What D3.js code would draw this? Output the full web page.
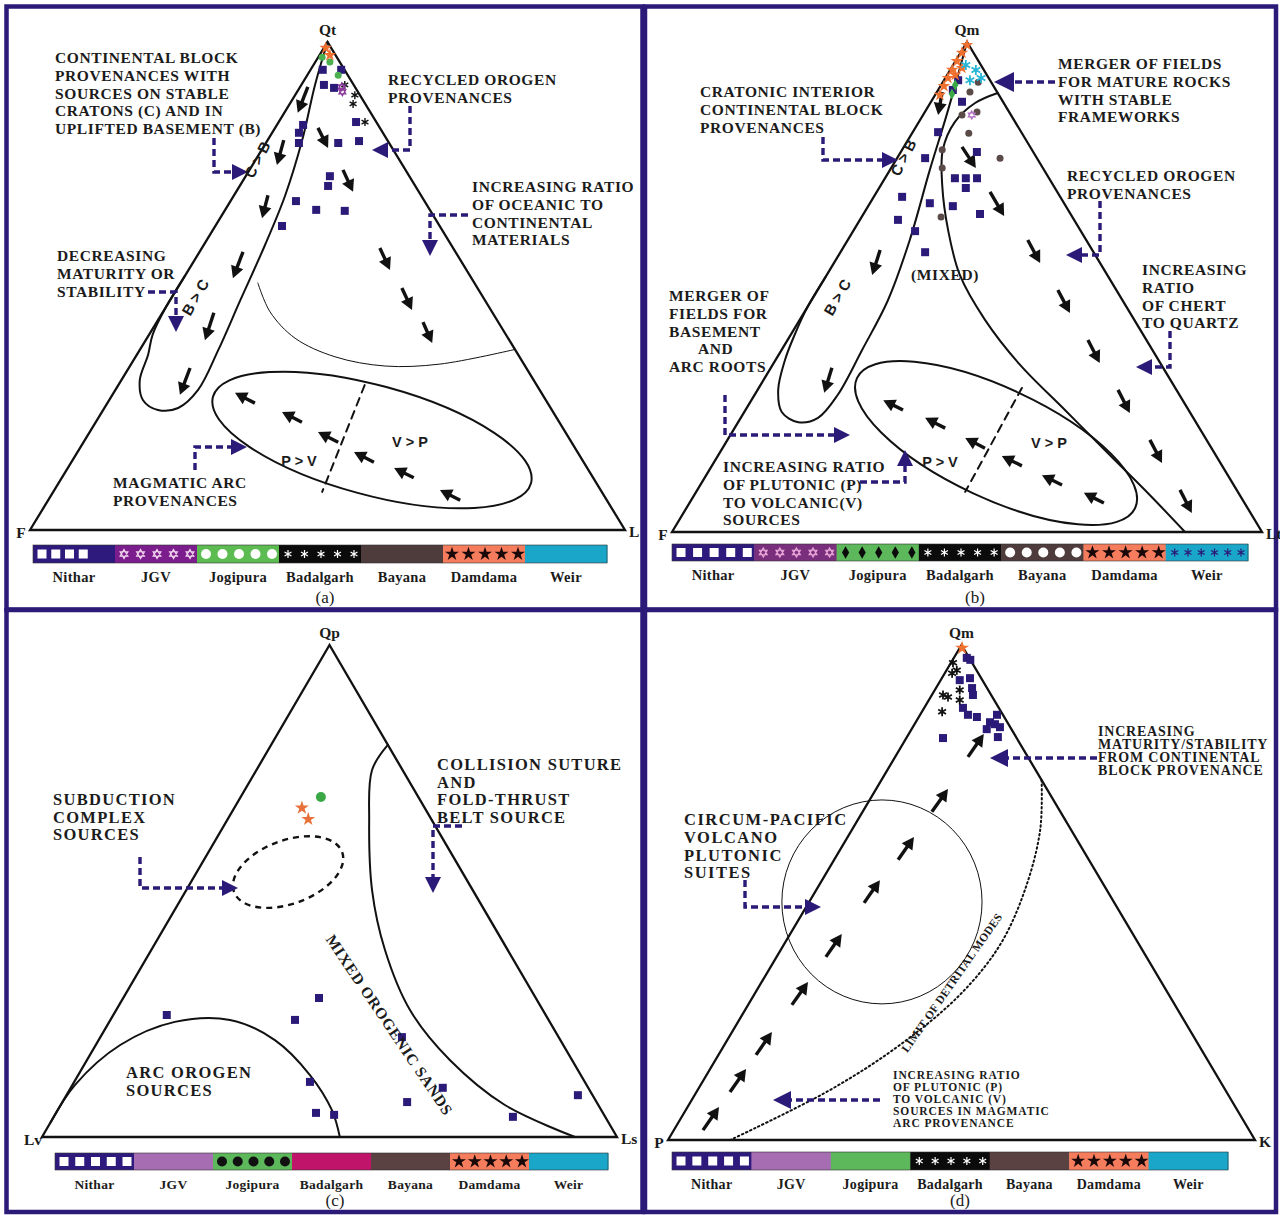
<!DOCTYPE html>
<html><head><meta charset="utf-8">
<script src="https://cdn.jsdelivr.net/npm/d3@7"></script>
<style>
body{margin:0;background:#fff}
svg{display:block}
text{font-family:"Liberation Serif","Times New Roman",serif;font-weight:bold;fill:#1b1b1b}
.sans{font-family:"Liberation Sans",Arial,sans-serif}
</style>
</head><body>
<svg id="fig" width="1280" height="1215"></svg>
<script>
// ---------- categories and labels ----------
const formations = ["Nithar","JGV","Jogipura","Badalgarh","Bayana","Damdama","Weir"];
const vertexLabels = { a:["Qt","F","L"], b:["Qm","F","Lt"], c:["Qp","Lv","Ls"], d:["Qm","P","K"] };
const panelTitles = ["(a)","(b)","(c)","(d)"];

// ---------- (a) QtFL : compositions [Qt, F, L] in % ----------
const qtflNithar = [[94.3,3.65,2.05],[94.3,0.55,5.15],[91.2,5.0,3.8],[90.6,3.6,5.8],[83.0,12.6,4.4],[81.4,14.1,4.5],
  [79.3,15.15,5.55],[83.6,3.4,13.0],[79.3,8.55,12.15],[79.7,4.85,15.45],[72.5,13.35,14.15],[70.5,14.65,14.85],
  [67.4,21.6,11.0],[65.6,19.1,15.3],[65.4,14.4,20.2],[62.3,26.5,11.2]];
const qtflBadalgarh = [[91.2,1.5,7.3],[89.1,0.85,10.05],[87.3,2.05,10.65],[83.6,1.9,14.5]];
const qtflJGV = [[90.8,2.2,7.0],[89.8,2.6,7.6]];
const qtflJogipura = [[96.9,2.45,0.65],[95.9,1.65,2.45],[93.2,1.6,5.2]];
const qtflDamdama = [[98.8,0.9,0.3],[97.3,0.95,1.75]];
// field boundaries
const qtflContinental = [[52,48,0],[46,54,0],[40,59.4,0.6],[35.9,62.2,1.9],[30.7,66.2,3.1],[26.6,67.7,5.7],[24.6,66.2,9.2],[25.0,62.6,12.4],
  [28.7,57.4,13.9],[36.9,49.9,13.2],[47.1,41.1,11.8],[58.4,31.3,10.3],[68.6,22.8,8.6],[79.9,14.3,5.8],[91.2,6.5,2.3],[100,0,0]];
const qtflTransition = [[50.6,36.4,13.0],[44.7,37.3,18.0],[39.3,35.8,24.9],[35.5,31.0,33.5],[33.6,23.5,42.9],[34.0,14.1,51.9],[37,0,63]];
const qtflArcField = [[27.3,55.6,17.1],[9.6,11.0,79.4],[29.3,25.5,45.2]]; // major axis ends, minor axis end
const qtflArcDivide = [[29.7,28.9,41.4],[7.8,47.0,45.2]];
const qtflTrends = [
  [[90.8,7.9,1.3],[85.5,12.25,2.25]],[[79.9,17.4,2.7],[74.8,21.1,4.1]],[[68.6,25.7,5.7],[63.9,29.05,7.05]],
  [[57.0,35.7,7.3],[51.6,40.1,8.3]],[[44.5,46.85,8.65],[38.9,51.15,9.95]],[[33.2,56.5,10.3],[27.7,60.95,11.35]],
  [[82.4,10.4,7.2],[78.3,10.75,10.95]],[[73.8,10.5,15.7],[69.3,11.05,19.65]],[[57.8,12.3,29.9],[53.3,12.85,33.85]],
  [[49.6,12.7,37.7],[45.1,13.25,41.65]],[[42.6,12.65,44.75],[38.3,13.25,48.45]],
  [[26.0,49.2,24.8],[28.1,51.5,20.4]],[[22.1,43.25,34.65],[24.2,45.55,30.25]],[[18.0,39.2,42.8],[20.1,41.55,38.35]],
  [[13.9,35.25,50.85],[16.0,37.55,46.45]],[[10.7,30.15,59.15],[12.7,32.45,54.85]],[[6.1,24.65,69.25],[8.2,27.0,64.8]]];

// ---------- (b) QmFLt : compositions [Qm, F, Lt] in % ----------
const qmfltNithar = [[90.2,7.3,2.5],[87.8,6.95,5.25],[81.6,14.1,4.3],[77.55,9.55,12.9],[76.3,18.95,4.75],[72.2,15.95,11.85],
  [72.2,14.1,13.7],[72.2,12.2,15.6],[70.2,15.1,14.7],[68.4,26.8,4.8],[67.1,22.75,10.15],[66.5,19.15,14.35],
  [64.9,15.35,19.75],[63.7,29.85,6.45],[61.4,28.1,10.5],[57.1,28.55,14.35],[92.2,5.4,2.4]];
const qmfltBayana = [[89.8,4.6,5.6],[91.8,2.2,6.0],[85.1,8.3,6.6],[85.7,5.45,8.85],[81.4,9.0,9.6],[78.0,15.2,6.8],
  [76.3,6.25,17.45],[74.3,17.05,8.65],[64.3,22.25,13.45]];
const qmfltDamdama = [[99.4,0.3,0.3],[97.8,1.95,0.25],[96.1,3.65,0.25],[94.3,5.35,0.35],[92.65,6.9,0.45],[91.0,8.4,0.6],
  [89.2,10.0,0.8],[93.3,5.35,1.35],[94.7,3.5,1.8]];
const qmfltWeir = [[95.3,2.55,2.15],[94.3,1.35,4.35],[92.2,3.4,4.4],[92.65,1.3,6.05]];
const qmfltJogipura = [[91.2,6.4,2.4],[89.4,7.85,2.75]];
const qmfltJGV = [[85.1,6.65,8.25]];
const qmfltContinental = [[52,48,0],[46,54,0],[40,59.3,0.7],[35.1,63.3,1.6],[29.0,67.5,3.5],[24.5,69.15,6.35],[22.4,67.4,10.2],[23.3,63.6,13.1],
  [28.0,57.9,14.1],[37.1,49.25,13.65],[47.3,39.75,12.95],[59.6,29.9,10.5],[73.9,19.35,6.75],[84.1,11.65,4.25],[91.2,6.4,2.4],[100,0,0]];
const qmfltRecycled = [[89.6,0,10.4],[87.55,4.85,7.6],[83.7,10.2,6.1],[78.0,15.1,6.9],[70.8,18.8,10.4],[61.6,22.4,16.0],
  [52.4,25.0,22.6],[43.3,25.3,31.4],[34.1,23.95,41.95],[24.9,20.95,54.15],[15.7,17.95,66.35],[7.55,15.25,77.2],[0,13.05,86.95]];
const qmfltArcField = [[31.4,52.95,15.65],[4.9,19.05,76.05],[28.4,27.0,44.6]];
const qmfltArcDivide = [[29.4,26.0,44.6],[8.2,46.2,45.6]];
const qmfltTrends = [
  [[89.8,9.3,0.9],[85.1,12.35,2.55]],[[57.55,35.95,6.5],[52.45,39.85,7.7]],[[33.5,56.15,10.35],[28.4,60.0,11.6]],
  [[78.6,11.55,9.85],[74.3,11.35,14.35]],[[69.4,11.4,19.2],[64.5,11.45,24.05]],
  [[59.6,9.9,30.5],[54.9,10.15,34.95]],[[49.4,9.9,40.7],[44.7,10.2,45.1]],[[39.2,9.9,50.9],[34.5,10.25,55.25]],
  [[29.0,9.9,61.1],[24.3,10.25,65.45]],[[18.8,9.6,71.6],[14.1,9.9,76.0]],[[8.6,9.6,81.8],[3.9,9.95,86.15]],
  [[24.9,48.4,26.7],[26.9,50.75,22.35]],[[21.2,43.1,35.7],[23.3,45.45,31.25]],[[17.1,38.4,44.5],[19.2,40.7,40.1]],
  [[13.5,33.95,52.55],[15.5,36.35,48.15]],[[9.6,29.1,61.3],[11.6,31.5,56.9]],[[5.9,23.85,70.25],[8.0,26.2,65.8]]];

// ---------- (c) QpLvLs : compositions [Qp, Lv, Ls] in % ----------
const qplvlsNithar = [[24.8,65.9,9.3],[28.25,37.7,34.05],[23.8,44.1,32.1],[11.2,47.8,41.0],[4.9,49.9,45.2],[4.5,46.95,48.55],
  [20.3,27.25,52.45],[7.1,32.95,59.95],[10.0,25.3,64.7],[4.1,16.05,79.85],[8.5,2.55,88.95]];
const qplvlsJogipura = [[69.1,16.95,13.95]];
const qplvlsDamdama = [[66.9,21.35,11.75],[64.6,21.4,14.0]];
const qplvlsSubduction = [[49.8,41.7,8.5],[57.9,18.85,23.25],[47.8,31.4,20.8]];
const qplvlsCollision = [[79.7,0,20.3],[74.6,5.3,20.1],[64.4,10.9,24.7],[50.2,17.5,32.3],[38.0,21.35,40.65],
  [25.8,23.1,51.1],[15.65,21.25,63.1],[6.5,16.25,77.25],[0,7.3,92.7]];
const qplvlsArcOrogen = [[3,97,0],[10.6,88.95,0.45],[18.7,77.05,4.25],[23.4,65.2,11.4],[23.8,55.4,20.8],
  [19.7,49.65,30.65],[12.6,47.1,40.3],[5.5,46.85,47.65],[0,48.2,51.8]];

// ---------- (d) QmPK : compositions [Qm, P, K] in % ----------
const qmpkNithar = [[97.4,0.4,2.2],[97.0,0,3.0],[92.9,3.85,3.25],[93.3,1.9,4.8],[91.3,2.55,6.15],[89.9,3.1,7.0],
  [87.3,6.1,6.6],[85.9,5.95,8.15],[85.45,4.65,9.9],[84.4,2.95,12.65],[85.9,1.0,13.1],[84.0,2.3,13.7],
  [83.4,1.75,14.85],[83.0,4.2,12.8],[81.4,3.1,15.5],[81.2,12.55,6.25]];
const qmpkBadalgarh = [[96.4,3.25,0.35],[94.9,3.35,1.75],[94.3,4.45,1.25],[89.9,8.2,1.9],[89.5,7.55,2.95],
  [90.9,4.85,4.25],[88.9,5.85,5.25],[86.5,10.05,3.45]];
const qmpkDamdama = [[99.4,0.2,0.4]];
const qmpkCircumPacific = [[48.1,56.55,-4.65],[48.1,22.45,29.45],[68.7,29.15,2.15]];
const qmpkLimit = [[72.7,0,27.3],[62.6,5.3,32.1],[50.5,13.95,35.55],[39.4,23.75,36.85],[29.3,35.65,35.05],
  [19.2,50.9,29.9],[10.1,67.35,22.55],[0,89.4,10.6]];
const qmpkTrends = [
  [[2.0,93.04,4.96],[6.65,87.98,5.37]],[[9.7,84.59,5.71],[14.35,79.53,6.12]],[[17.2,76.4,6.4],[21.8,71.4,6.8]],
  [[27.3,65.25,7.45],[31.9,60.2,7.9]],[[37.0,54.6,8.4],[41.6,49.6,8.8]],[[47.9,42.65,9.45],[52.5,37.65,9.85]],
  [[56.6,32.5,10.9],[61.2,27.5,11.3]],[[66.3,21.9,11.8],[70.9,16.85,12.25]],[[77.4,10.2,12.4],[82.0,5.2,12.8]]];

// ---------- styling ----------
const NAVY = "#2b1a78";
const legendStyles = {
  a:{fill:["#2d1a7c","#7b1d8c","#5cbc52","#0b0b0b","#4e3b3b","#f57c5c","#19a6c8"],
     sym:["square","hexagram","circle","asterisk",null,"star",null],
     ink:["#fff","#f2d4ee","#fff","#fff",null,"#1a0808",null], n:[4,5,5,5,0,5,0], fs:14.5},
  b:{fill:["#2d1a7c","#7a2f7c","#5cb85a","#0b0b0b","#4e3b3b","#f57c5c","#19a6c8"],
     sym:["square","hexagram","diamond","asterisk","circle","star","asterisk"],
     ink:["#fff","#e9a6d8","#0b0b0b","#fff","#fff","#1a0808","#2b1a78"], n:[5,5,5,5,5,5,6], fs:14.5},
  c:{fill:["#2d1a7c","#a66db3","#5cb85a","#c0136a","#5a4142","#f57c5c","#19a6c8"],
     sym:["square",null,"circle",null,null,"star",null],
     ink:["#fff",null,"#111",null,null,"#1a0808",null], n:[5,0,5,0,0,5,0], fs:13.5},
  d:{fill:["#2d1a7c","#a66db3","#5cb85a","#0b0b0b","#5a4142","#f57c5c","#19a6c8"],
     sym:["square",null,null,"asterisk",null,"star",null],
     ink:["#fff",null,null,"#fff",null,"#1a0808",null], n:[5,0,0,5,0,5,0], fs:14}
};
const geom = {
  a:{lx:30,rx:625,by:530,ay:42, box:[6.5,6.5,636,603], legend:[33,607,545,18], title:[325,603]},
  b:{lx:672,rx:1262,by:532,ay:42, box:[645,6.5,631,603], legend:[672,1248,544,17], title:[975,603]},
  c:{lx:42,rx:617,by:1137,ay:645, box:[6.5,610,636,602], legend:[55,608,1153,17], title:[335,1206]},
  d:{lx:668,rx:1255,by:1140,ay:645, box:[645,610,631,602], legend:[672,1228,1152,18], title:[960,1206]}
};

const svg = d3.select("#fig");
svg.append("rect").attr("width",1280).attr("height",1215).attr("fill","#fff");

function projector(g){
  const sx = d3.scaleLinear().domain([0,100]).range([g.lx,g.rx]);
  const sy = d3.scaleLinear().domain([0,100]).range([g.by,g.ay]);
  return p => { const s = p[0]+p[1]+p[2]; const t = p[0]/s*100, r = p[2]/s*100; return [sx(r+t/2), sy(t)]; };
}

function symPath(type, size){
  const r = size/2;
  if (type==="square") return d3.symbol(d3.symbolSquare, size*size)();
  if (type==="circle") return d3.symbol(d3.symbolCircle, Math.PI*r*r)();
  if (type==="diamond") return d3.symbol(d3.symbolDiamond, size*size*0.55)();
  if (type==="star") return d3.symbol(d3.symbolStar, size*size*0.5)();
  if (type==="asterisk"){
    let p=""; for(let k=0;k<3;k++){const a=Math.PI/2+k*Math.PI/3,dx=Math.cos(a)*r,dy=Math.sin(a)*r;
      p+=`M${-dx},${-dy}L${dx},${dy}`;} return p;
  }
  if (type==="hexagram"){
    const tri = off => d3.range(3).map(k=>{const a=off+k*2*Math.PI/3;return [Math.cos(a)*r,Math.sin(a)*r];});
    const f = pts => "M"+pts.map(q=>q.join(",")).join("L")+"Z";
    return f(tri(-Math.PI/2))+f(tri(Math.PI/2));
  }
  return "";
}
function drawSym(g, type, x, y, size, color, sw){
  const stroked = type==="asterisk"||type==="hexagram";
  g.append("path").attr("d",symPath(type,size)).attr("transform",`translate(${x},${y})`)
    .attr("fill", stroked? "none": color).attr("stroke", stroked? color: "none")
    .attr("stroke-width", stroked? (sw||1.4): 0);
}

function blackArrow(g, p1, p2){
  const L = Math.hypot(p2[0]-p1[0],p2[1]-p1[1]), ux=(p2[0]-p1[0])/L, uy=(p2[1]-p1[1])/L;
  const hl=12, hw=6.5, b=[p2[0]-ux*hl,p2[1]-uy*hl];
  g.append("line").attr("x1",p1[0]).attr("y1",p1[1]).attr("x2",b[0]+ux*2).attr("y2",b[1]+uy*2)
    .attr("stroke","#111").attr("stroke-width",3.4);
  g.append("path").attr("d",`M${p2[0]},${p2[1]}L${b[0]-uy*hw},${b[1]+ux*hw}L${b[0]+uy*hw},${b[1]-ux*hw}Z`).attr("fill","#111");
}
function callout(g, pts, hl=16, hw=8){
  const n=pts.length, a=pts[n-2], e=pts[n-1];
  const L=Math.hypot(e[0]-a[0],e[1]-a[1]), ux=(e[0]-a[0])/L, uy=(e[1]-a[1])/L;
  const b=[e[0]-ux*hl,e[1]-uy*hl];
  g.append("path").attr("d",d3.line()(pts.slice(0,n-1).concat([b]))).attr("fill","none")
    .attr("stroke",NAVY).attr("stroke-width",3.4).attr("stroke-dasharray","7,4");
  g.append("path").attr("d",`M${e[0]},${e[1]}L${b[0]-uy*hw},${b[1]+ux*hw}L${b[0]+uy*hw},${b[1]-ux*hw}Z`).attr("fill",NAVY);
}
function textBlock(g, x, y, lines, size, lh, ls){
  const t=g.append("text").attr("font-size",size).attr("letter-spacing",ls||0);
  lines.forEach((s,i)=>{ const o = typeof s==="string"? {s, dx:0}: s;
    t.append("tspan").attr("x",x+o.dx).attr("y",y+i*lh).text(o.s); });
}
function rotText(g, x, y, s, angle, size, cls, ls){
  g.append("text").attr("class",cls||null).attr("font-size",size).attr("text-anchor","middle").attr("letter-spacing",ls||0)
    .attr("transform",`translate(${x},${y}) rotate(${angle})`).text(s);
}
function curve(g, proj, pts, opts){
  g.append("path").attr("d", d3.line().curve(d3.curveCatmullRom.alpha(0.5))(pts.map(proj)))
    .attr("fill","none").attr("stroke","#111").attr("stroke-width",opts.w||2)
    .attr("stroke-dasharray",opts.dash||null).attr("stroke-linecap","round");
}
function ellipseField(g, proj, def, opts){
  const a=proj(def[0]), b=proj(def[1]), m=proj(def[2]);
  const cx=(a[0]+b[0])/2, cy=(a[1]+b[1])/2, rx=Math.hypot(b[0]-a[0],b[1]-a[1])/2;
  const ang=Math.atan2(b[1]-a[1],b[0]-a[0]);
  const ry=Math.abs(-(m[0]-cx)*Math.sin(ang)+(m[1]-cy)*Math.cos(ang));
  g.append("ellipse").attr("cx",0).attr("cy",0).attr("rx",rx).attr("ry",ry)
    .attr("transform",`translate(${cx},${cy}) rotate(${ang*180/Math.PI})`)
    .attr("fill","none").attr("stroke","#111").attr("stroke-width",opts.w||2).attr("stroke-dasharray",opts.dash||null);
}
function triangle(g, key){
  const G=geom[key], ax=(G.lx+G.rx)/2;
  g.append("path").attr("d",`M${ax},${G.ay}L${G.lx},${G.by}L${G.rx},${G.by}Z`)
    .attr("fill","none").attr("stroke","#111").attr("stroke-width",2.3).attr("stroke-linejoin","miter");
  const L=vertexLabels[key];
  g.append("text").attr("x",ax).attr("y",G.ay-7).attr("text-anchor","middle").attr("font-size",15.5).text(L[0]);
  g.append("text").attr("x",G.lx-9).attr("y",G.by+8).attr("text-anchor","middle").attr("font-size",15.5).text(L[1]);
  g.append("text").attr("x",G.rx+4).attr("y",G.by+7).attr("text-anchor","start").attr("font-size",15.5).text(L[2]);
}
function legend(g, key, idx){
  const G=geom[key], S=legendStyles[key];
  const [x0,x1,y,h]=G.legend, band=d3.scaleBand().domain(formations).range([x0,x1]);
  formations.forEach((f,i)=>{
    const bx=band(f), w=band.bandwidth();
    g.append("rect").attr("x",bx).attr("y",y).attr("width",w+0.5).attr("height",h).attr("fill",S.fill[i]);
    for(let k=0;k<S.n[i];k++){
      const sx = bx + 9 + k*(w-16)/Math.max(1,S.n[i]===4?4.8:S.n[i]-1);
      const sz = {square:9,hexagram:9,circle:10,asterisk:8,diamond:9,star:11}[S.sym[i]];
      drawSym(g,S.sym[i],sx,y+h/2,sz,S.ink[i],1.2);
    }
    g.append("text").attr("x",bx+w/2).attr("y",y+h+19).attr("text-anchor","middle").attr("font-size",S.fs)
      .attr("letter-spacing",0.3).text(f);
  });
  g.append("rect").attr("x",x0).attr("y",y).attr("width",x1-x0).attr("height",h).attr("fill","none").attr("stroke","#333").attr("stroke-width",0.6);
  g.append("text").attr("x",G.title[0]).attr("y",G.title[1]).attr("text-anchor","middle").attr("font-size",17)
    .style("font-weight","normal").text(panelTitles[idx]);
}
function points(g, proj, data, type, color, size, sw){
  data.forEach(p=>{ const q=proj(p); drawSym(g,type,q[0],q[1],size,color,sw); });
}

// panel frames
["a","b","c","d"].forEach(k=>{ const b=geom[k].box;
  svg.append("rect").attr("x",b[0]).attr("y",b[1]).attr("width",b[2]).attr("height",b[3])
    .attr("fill","none").attr("stroke",NAVY).attr("stroke-width",4.5); });

const FS=15.5, LH=17.8;

// ===== (a) QtFL =====
{
  const g=svg.append("g"), P=projector(geom.a);
  triangle(g,"a");
  curve(g,P,qtflContinental,{w:2});
  curve(g,P,qtflTransition,{w:1});
  ellipseField(g,P,qtflArcField,{w:2});
  curve(g,P,qtflArcDivide,{w:2,dash:"8,6"});
  qtflTrends.forEach(a=>blackArrow(g,P(a[0]),P(a[1])));
  points(g,P,qtflNithar,"square",NAVY,8);
  points(g,P,qtflBadalgarh,"asterisk","#111",8,1.4);
  points(g,P,qtflJGV,"hexagram","#8a3a9a",8,1.2);
  points(g,P,qtflJogipura,"circle","#4caf50",7);
  points(g,P,qtflDamdama,"star","#f07030",10);
  textBlock(g,55,63,["CONTINENTAL BLOCK","PROVENANCES WITH","SOURCES ON STABLE","CRATONS (C) AND IN","UPLIFTED BASEMENT (B)"],FS,LH,0.6);
  textBlock(g,388,85,["RECYCLED OROGEN","PROVENANCES"],FS,LH,0.6);
  textBlock(g,472,192,["INCREASING RATIO","OF OCEANIC TO","CONTINENTAL","MATERIALS"],FS,LH,0.6);
  textBlock(g,57,261,["DECREASING","MATURITY OR","STABILITY"],FS,LH,0.6);
  textBlock(g,113,488,["MAGMATIC ARC","PROVENANCES"],FS,LH,0.6);
  callout(g,[[214,138],[214,172],[248,172]]);
  callout(g,[[410,106],[410,150],[372,150]]);
  callout(g,[[468,215],[430,215],[430,256]]);
  callout(g,[[148,292],[176,292],[176,332]]);
  callout(g,[[195,470],[195,447],[247,447]]);
  g.append("text").attr("class","sans").attr("x",299).attr("y",466).attr("font-size",14.5).attr("text-anchor","middle").text("P > V");
  g.append("text").attr("class","sans").attr("x",410).attr("y",447).attr("font-size",14.5).attr("text-anchor","middle").text("V > P");
  rotText(g,262,162,"C > B",-63,15,"sans");
  rotText(g,200,300,"B > C",-60,15,"sans");
  legend(g,"a",0);
}

// ===== (b) QmFLt =====
{
  const g=svg.append("g"), P=projector(geom.b);
  triangle(g,"b");
  curve(g,P,qmfltContinental,{w:2});
  curve(g,P,qmfltRecycled,{w:2});
  ellipseField(g,P,qmfltArcField,{w:2});
  curve(g,P,qmfltArcDivide,{w:2,dash:"8,6"});
  qmfltTrends.forEach(a=>blackArrow(g,P(a[0]),P(a[1])));
  points(g,P,qmfltNithar,"square",NAVY,8);
  points(g,P,qmfltBayana,"circle","#5a4a48",7);
  points(g,P,qmfltDamdama,"star","#f07030",10);
  points(g,P,qmfltWeir,"asterisk","#26b5d6",10,1.8);
  points(g,P,qmfltJogipura,"diamond","#3aa845",8);
  points(g,P,qmfltJGV,"hexagram","#b070c0",8,1.2);
  textBlock(g,700,97,["CRATONIC INTERIOR","CONTINENTAL BLOCK","PROVENANCES"],FS,LH,0.6);
  textBlock(g,1058,69,["MERGER OF FIELDS","FOR MATURE ROCKS","WITH STABLE","FRAMEWORKS"],FS,LH,0.6);
  textBlock(g,1067,181,["RECYCLED OROGEN","PROVENANCES"],FS,LH,0.6);
  textBlock(g,1142,275,["INCREASING","RATIO","OF CHERT","TO QUARTZ"],FS,LH,0.6);
  textBlock(g,669,301,["MERGER OF","FIELDS FOR","BASEMENT",{s:"AND",dx:29},"ARC ROOTS"],FS,LH,0.6);
  textBlock(g,723,472,["INCREASING RATIO","OF PLUTONIC (P)","TO VOLCANIC(V)","SOURCES"],FS,LH,0.6);
  g.append("text").attr("x",945).attr("y",280).attr("font-size",FS).attr("text-anchor","middle").attr("letter-spacing",0.6).text("(MIXED)");
  callout(g,[[823,137],[823,160],[898,160]]);
  callout(g,[[1055,82],[994,82]],20,10);
  callout(g,[[1100,201],[1100,255],[1066,255]]);
  callout(g,[[1170,331],[1170,367],[1136,367]]);
  callout(g,[[725,395],[725,435],[850,435]]);
  callout(g,[[860,482],[905,482],[905,450]]);
  g.append("text").attr("class","sans").attr("x",940).attr("y",467).attr("font-size",14.5).attr("text-anchor","middle").text("P > V");
  g.append("text").attr("class","sans").attr("x",1049).attr("y",448).attr("font-size",14.5).attr("text-anchor","middle").text("V > P");
  rotText(g,908,160,"C > B",-63,15,"sans");
  rotText(g,842,300,"B > C",-60,15,"sans");
  legend(g,"b",1);
}

// ===== (c) QpLvLs =====
{
  const g=svg.append("g"), P=projector(geom.c);
  triangle(g,"c");
  curve(g,P,qplvlsCollision,{w:2});
  curve(g,P,qplvlsArcOrogen,{w:2});
  ellipseField(g,P,qplvlsSubduction,{w:2.4,dash:"6,5"});
  points(g,P,qplvlsNithar,"square",NAVY,8);
  points(g,P,qplvlsJogipura,"circle","#3aa845",10);
  points(g,P,qplvlsDamdama,"star","#e8703a",11);
  textBlock(g,53,805,["SUBDUCTION","COMPLEX","SOURCES"],16.5,17.5,1.3);
  textBlock(g,437,770,["COLLISION SUTURE","AND","FOLD-THRUST","BELT SOURCE"],16.5,17.5,1.3);
  textBlock(g,126,1078,["ARC OROGEN","SOURCES"],16.5,17.5,1.3);
  rotText(g,385,1028,"MIXED OROGENIC SANDS",56,15.5,null,0.8);
  callout(g,[[140,857],[140,888],[238,888]]);
  callout(g,[[462,826],[433,826],[433,893]]);
  legend(g,"c",2);
}

// ===== (d) QmPK =====
{
  const g=svg.append("g"), P=projector(geom.d);
  triangle(g,"d");
  ellipseField(g,P,qmpkCircumPacific,{w:1});
  curve(g,P,qmpkLimit,{w:2,dash:"1.5,3"});
  qmpkTrends.forEach(a=>blackArrow(g,P(a[0]),P(a[1])));
  points(g,P,qmpkNithar,"square",NAVY,8);
  points(g,P,qmpkBadalgarh,"asterisk","#111",9,1.8);
  points(g,P,qmpkDamdama,"star","#f07030",11);
  textBlock(g,1098,736,["INCREASING","MATURITY/STABILITY","FROM CONTINENTAL","BLOCK PROVENANCE"],14,13,0.8);
  textBlock(g,684,825,["CIRCUM-PACIFIC","VOLCANO","PLUTONIC","SUITES"],16.5,17.8,1.5);
  textBlock(g,893,1079,["INCREASING RATIO","OF PLUTONIC (P)","TO VOLCANIC (V)","SOURCES IN MAGMATIC","ARC PROVENANCE"],11.5,12,0.9);
  rotText(g,955,985,"LIMIT OF DETRITAL MODES",-55,11.5,null,0.3);
  callout(g,[[1097,758],[990,758]],18,9);
  callout(g,[[745,880],[745,907],[821,907]]);
  callout(g,[[880,1100],[773,1100]],18,9);
  legend(g,"d",3);
}
</script>
</body></html>
